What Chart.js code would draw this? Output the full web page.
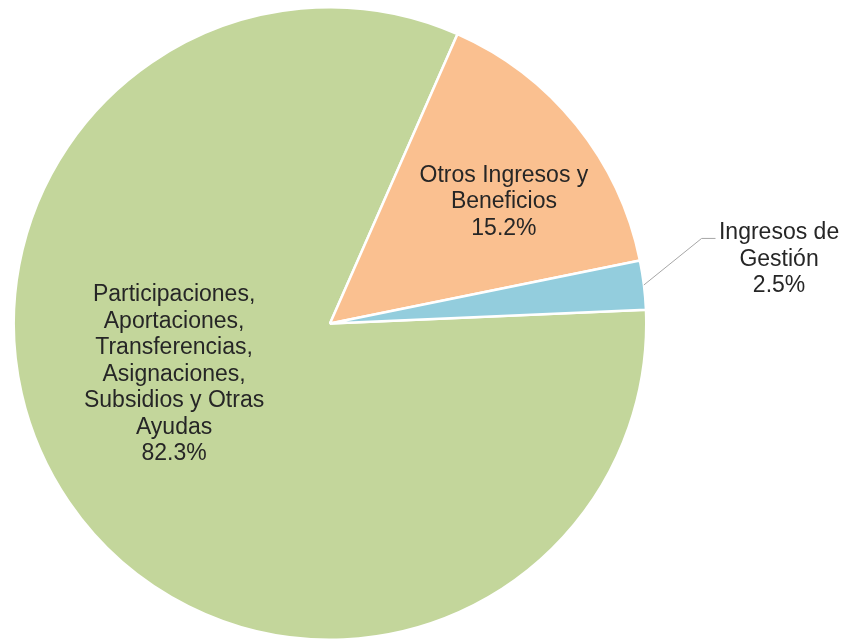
<!DOCTYPE html>
<html>
<head>
<meta charset="utf-8">
<script src="https://cdn.jsdelivr.net/npm/chart.js@4"></script>
<style>
  html, body { margin: 0; padding: 0; background: #ffffff; }
  #wrap { width: 847px; height: 641px; position: relative; }
</style>
</head>
<body>
<div id="wrap"><canvas id="c"></canvas></div>
<script>
// Data
const categories = [
  "Participaciones, Aportaciones, Transferencias, Asignaciones, Subsidios y Otras Ayudas",
  "Otros Ingresos y Beneficios",
  "Ingresos de Gestión"
];
const labelLines = [
  ["Participaciones,", "Aportaciones,", "Transferencias,", "Asignaciones,", "Subsidios y Otras", "Ayudas"],
  ["Otros Ingresos y", "Beneficios"],
  ["Ingresos de", "Gestión"]
];
const values = [82.3, 15.2, 2.5];
const colors = ["#C3D69B", "#FAC090", "#93CDDD"];

// Label placement (relative to pie centre, in units of radius)
const labelAnchors = [
  { dx: -0.493, dy: -0.071 },
  { dx: 0.550, dy: -0.449 },
  { dx: 1.420, dy: -0.266, leader: { ex: 1.175, ey: -0.269, hx: 1.219 } }
];

const labelPlugin = {
  id: 'sliceLabels',
  afterDatasetsDraw(chart) {
    const ctx = chart.ctx;
    const meta = chart.getDatasetMeta(0);
    ctx.save();
    ctx.font = '23px "Liberation Sans", Arial, sans-serif';
    ctx.fillStyle = '#262626';
    ctx.textAlign = 'center';
    ctx.textBaseline = 'alphabetic';
    const lh = 26.5;
    meta.data.forEach((arc, i) => {
      const p = arc.getProps(['x', 'y', 'startAngle', 'endAngle', 'outerRadius'], true);
      const r = p.outerRadius;
      const a = labelAnchors[i];
      const x = p.x + a.dx * r;
      const y0 = p.y + a.dy * r;
      const lines = labelLines[i].concat([values[i].toFixed(1) + '%']);
      lines.forEach((t, k) => ctx.fillText(t, x, y0 + k * lh));
      if (a.leader) {
        const mid = (p.startAngle + p.endAngle) / 2;
        const sx = p.x + Math.cos(mid) * r;
        const sy = p.y + Math.sin(mid) * r;
        ctx.beginPath();
        ctx.strokeStyle = '#A6A6A6';
        ctx.lineWidth = 1;
        ctx.moveTo(sx, sy);
        ctx.lineTo(p.x + a.leader.ex * r, p.y + a.leader.ey * r);
        ctx.lineTo(p.x + a.leader.hx * r, p.y + a.leader.ey * r);
        ctx.stroke();
      }
    });
    ctx.restore();
  }
};

new Chart(document.getElementById('c'), {
  type: 'pie',
  data: {
    labels: categories,
    datasets: [{
      data: values,
      backgroundColor: colors,
      borderColor: '#ffffff',
      borderWidth: 2.5
    }]
  },
  options: {
    responsive: true,
    maintainAspectRatio: false,
    animation: false,
    rotation: 87.5,
    layout: { padding: { left: 12, right: 199, top: 6, bottom: 0 } },
    plugins: {
      legend: { display: false },
      tooltip: { enabled: false }
    }
  },
  plugins: [labelPlugin]
});
</script>
</body>
</html>
